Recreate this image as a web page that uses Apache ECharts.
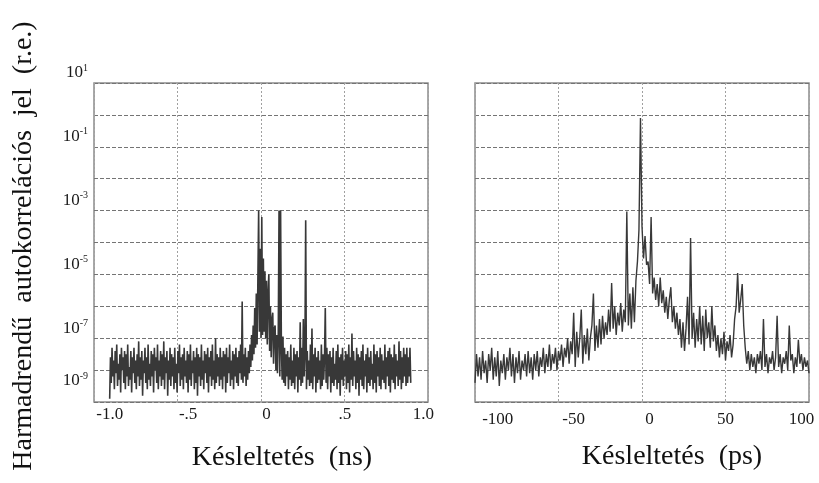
<!DOCTYPE html>
<html>
<head>
<meta charset="utf-8">
<script src="https://cdn.jsdelivr.net/npm/echarts@6/dist/echarts.min.js"></script>
<style>html,body{margin:0;padding:0;background:#fff}#c{width:819px;height:483px}</style>
</head>
<body>
<div id="c"></div>
<script>
// ---- Data (signal given as log10 of the autocorrelation) ----
const leftXStart = -1.0;   // ns
const leftXStep = 0.005;   // ns
const leftLog10 = [
-8.9,-7.6,-8.4,-7.3,-8.2,-7.7,-8.6,-7.4,-8.1,-7.2,-8.5,-7.8,-8.3,-7.5,-8.7,-7.3,-8.0,-7.6,-8.4,-7.4,
-8.6,-7.5,-8.2,-7.2,-8.5,-7.9,-8.3,-7.4,-8.7,-7.6,-8.1,-7.3,-8.4,-7.7,-8.6,-7.5,-8.2,-7.1,-8.5,-7.6,
-8.3,-7.4,-8.8,-7.7,-8.1,-7.3,-8.4,-7.6,-8.6,-7.2,-8.3,-7.8,-8.5,-7.4,-8.2,-7.5,-8.7,-7.3,-8.0,-7.6,
-8.4,-7.2,-8.6,-7.7,-8.2,-7.4,-8.5,-7.5,-8.3,-7.1,-8.6,-7.6,-8.1,-7.4,-8.8,-7.7,-8.3,-7.3,-8.5,-7.5,
-8.2,-7.6,-8.6,-7.3,-8.4,-7.8,-8.7,-7.4,-8.1,-7.2,-8.5,-7.6,-8.3,-7.5,-8.6,-7.3,-8.2,-7.7,-8.4,-7.4,
-8.7,-7.5,-8.3,-7.2,-8.5,-7.7,-8.1,-7.4,-8.6,-7.6,-8.4,-7.3,-8.8,-7.5,-8.2,-7.6,-8.5,-7.2,-8.3,-7.7,
-8.6,-7.4,-8.1,-7.5,-8.4,-7.3,-8.7,-7.6,-8.2,-7.4,-8.5,-7.2,-8.3,-7.7,-8.6,-7.0,-8.4,-7.5,-8.2,-7.6,
-8.5,-7.3,-8.3,-7.6,-8.6,-7.4,-8.2,-7.5,-8.7,-7.3,-8.4,-7.6,-8.1,-7.2,-8.5,-7.7,-8.3,-7.4,-8.6,-7.5,
-8.2,-7.3,-8.4,-7.6,-8.5,-7.4,-8.1,-7.2,-8.3,-5.85,-8.4,-7.5,-8.2,-7.3,-8.5,-7.6,-8.3,-7.4,-8.1,-7.2,
-7.9,-6.9,-7.7,-6.6,-7.5,-6.05,-7.3,-5.6,-7.2,-5.2,
-3.0,-6.8,-4.2,-7.0,-3.2,-6.9,-4.5,-6.8,-4.9,-7.0,
-5.2,-7.2,-5.6,-5.0,-7.4,-6.0,-7.6,-6.4,-6.2,-7.8,-6.7,-6.6,-8.0,-6.9,-8.1,-7.0,-3.0,-8.2,-3.0,-7.3,
-8.3,-6.95,-8.4,-7.3,-8.5,-7.5,-8.2,-7.4,-8.6,-7.6,-8.3,-7.2,-8.5,-7.7,-8.4,-7.3,-8.6,-7.5,-8.2,-7.4,
-8.7,-7.6,-8.3,-6.5,-8.5,-7.3,-8.4,-6.4,-8.2,-7.5,-3.3,-8.6,-7.4,-8.3,-7.7,-8.5,-7.2,-8.4,-6.7,-8.6,
-7.5,-8.2,-7.3,-8.7,-7.6,-8.4,-7.4,-8.3,-7.7,-8.6,-7.2,-8.5,-7.5,-8.3,-7.6,-6.05,-8.4,-7.3,-8.6,-7.5,
-8.2,-7.4,-8.7,-7.6,-8.4,-7.3,-8.5,-7.8,-8.3,-7.4,-8.6,-7.2,-8.4,-7.6,-8.8,-7.5,-8.3,-7.3,-8.5,-7.7,
-8.2,-7.4,-8.6,-7.5,-8.4,-7.2,-8.7,-7.6,-8.3,-6.85,-8.5,-7.4,-8.2,-7.7,-8.6,-7.3,-8.4,-7.5,-8.8,-7.6,
-8.3,-7.4,-8.5,-7.2,-8.6,-7.7,-8.2,-7.5,-8.7,-7.3,-8.4,-7.6,-8.5,-7.4,-8.3,-7.8,-8.6,-7.2,-8.4,-7.5,
-8.7,-7.4,-8.2,-7.6,-8.5,-7.3,-8.6,-7.5,-8.3,-7.7,-8.4,-7.2,-8.6,-7.6,-8.2,-7.4,-8.5,-7.3,-8.7,-7.5,
-8.3,-7.6,-8.4,-7.2,-8.6,-7.5,-8.2,-7.7,-8.5,-7.1,-8.3,-7.4,-8.6,-7.6,-8.4,-7.3,-8.2,-7.5,-8.5,-7.3,
-8.4,-7.6,-8.2,-7.3,-8.4
];

const rightXStart = -115;  // ps
const rightXStep = 1;      // ps
const rightLog10 = [
-8.4,-7.5,-8.2,-7.6,-8.3,-7.4,-8.1,-7.7,-8.4,-7.5,-8.0,-7.3,-8.3,-7.6,-8.2,-7.4,-8.5,-7.7,-8.1,-7.5,
-8.3,-7.6,-8.0,-7.3,-8.2,-7.5,-8.4,-7.6,-8.1,-7.4,-8.3,-7.7,-8.0,-7.5,-8.2,-7.4,-8.1,-7.6,-8.3,-7.5,
-8.0,-7.4,-8.2,-7.6,-7.9,-7.3,-8.1,-7.5,-7.9,-7.2,-8.0,-7.5,-7.8,-7.3,-8.0,-7.4,-7.7,-7.2,-7.9,-7.3,
-7.6,-7.0,-7.8,-7.1,-7.5,-6.2,-7.9,-6.8,-7.6,-7.0,-6.1,-7.8,-6.9,-7.5,-6.7,-7.7,-7.0,-6.6,-5.6,-7.4,
-6.6,-7.3,-6.4,-7.2,-6.3,-7.0,-6.5,-6.9,-6.1,-6.8,-5.27,-6.7,-6.0,-6.9,-6.2,-6.6,-5.9,-6.8,-6.1,-6.5,
-3.03,-6.6,-5.6,-6.7,-5.4,-6.5,-5.2,-4.6,-3.6,-0.1,-3.5,-4.5,-3.8,-4.7,-4.6,-5.3,-3.2,-5.6,-5.1,-5.8,
-5.3,-6.0,-5.1,-5.9,-5.5,-6.2,-5.7,-6.4,-5.8,-5.4,-6.5,-6.0,-6.7,-6.2,-6.9,-6.4,-7.3,-6.5,-7.4,-6.7,
-5.7,-7.2,-3.86,-7.0,-6.2,-7.3,-6.4,-7.1,-6.0,-7.2,-6.3,-7.4,-6.1,-7.0,-6.5,-7.3,-6.0,-7.1,-6.6,-7.4,
-6.9,-7.6,-7.0,-7.5,-6.8,-7.7,-7.1,-7.4,-6.9,-7.6,-7.2,-6.4,-6.0,-4.96,-6.2,-5.8,-5.3,-6.6,-7.3,-7.8,
-7.4,-8.0,-7.5,-7.9,-7.6,-8.1,-7.5,-7.8,-7.4,-8.0,-6.4,-7.9,-7.5,-8.1,-7.6,-7.8,-7.4,-8.0,-7.6,-6.3,
-7.9,-7.5,-8.1,-7.6,-7.8,-7.4,-8.0,-6.6,-7.7,-7.5,-8.1,-7.6,-7.9,-7.05,-7.8,-7.5,-8.0,-7.6,-7.9,-7.7,-8.1
];

// ---- Axis ticks / texts ----
const leftXTickLabels = {'-1': '-1.0', '-0.5': '-.5', '0': '0', '0.5': '.5', '1': '1.0'};
const rightXTickValues = [-100, -50, 0, 50, 100];
const yLabelExps = [1, -1, -3, -5, -7, -9];
const leftXTitle = 'Késleltetés  (ns)';
const rightXTitle = 'Késleltetés  (ps)';
const yTitle = 'Harmadrendű  autokorrelációs  jel  (r.e.)';

// ---- Build series data ----
const leftData = leftLog10.map((e, i) => [+(leftXStart + i * leftXStep).toFixed(4), e]);
const rightData = rightLog10.map((e, i) => [+(rightXStart + i * rightXStep).toFixed(4), e]);

const FONT = 'Liberation Serif';
const TXT = '#1a1a1a';
const hGrid = {show: true, lineStyle: {color: '#747474', width: 1, type: [4, 2]}};
const vGrid = {show: true, lineStyle: {color: '#a0a0a0', width: 1, type: [2, 2]}};

const chart = echarts.init(document.getElementById('c'), null, {renderer: 'canvas'});

function yFmt(v) {
  const e = Math.round(v);
  if (Math.abs(v - e) > 1e-6 || yLabelExps.indexOf(e) < 0) return '';
  if (e === -9) return '{b|10}{s|' + e + '}\n{g| }';
  return '{b|10}{s|' + e + '}';
}
const yRich = {
  b: {fontFamily: FONT, fontSize: 17, color: TXT, lineHeight: 20},
  s: {fontFamily: FONT, fontSize: 10, color: TXT, lineHeight: 10, verticalAlign: 'top'},
  g: {fontSize: 2, lineHeight: 11}
};

const gridBox = {show: true, borderColor: '#8c8c8c', borderWidth: 1.5, containLabel: false};

const option = {
  animation: false,
  backgroundColor: '#ffffff',
  grid: [
    Object.assign({left: 94, top: 83, width: 334, height: 319}, gridBox),
    Object.assign({left: 475, top: 83, width: 334, height: 319}, gridBox)
  ],
  xAxis: [
    { // left data axis
      type: 'value', gridIndex: 0, min: -1.1, max: 1.03, interval: 0.1,
      axisLine: {show: false}, axisTick: {show: false}, splitLine: {show: false},
      axisLabel: {
        margin: 4, fontFamily: FONT, fontSize: 17, color: TXT, showMinLabel: true, showMaxLabel: true,
        formatter: function (v) {
          const k = Math.round(v * 10) / 10;
          if (Math.abs(v - k) > 1e-6) return '';
          const key = String(k === 0 ? 0 : k);
          return leftXTickLabels[key] !== undefined ? leftXTickLabels[key] : '';
        }
      }
    },
    { // left grid-line axis
      type: 'value', gridIndex: 0, min: 0, max: 4, interval: 1, position: 'top',
      axisLine: {show: false}, axisTick: {show: false}, axisLabel: {show: false},
      splitLine: vGrid
    },
    { // right data axis
      type: 'value', gridIndex: 1, min: -115, max: 105, interval: 5,
      axisLine: {show: false}, axisTick: {show: false}, splitLine: {show: false},
      axisLabel: {
        margin: 9, fontFamily: FONT, fontSize: 17, color: TXT,
        formatter: function (v) { return rightXTickValues.indexOf(Math.round(v)) >= 0 && Math.abs(v - Math.round(v)) < 1e-6 ? String(Math.round(v)) : ''; }
      }
    },
    { // right grid-line axis
      type: 'value', gridIndex: 1, min: 0, max: 4, interval: 1, position: 'top',
      axisLine: {show: false}, axisTick: {show: false}, axisLabel: {show: false},
      splitLine: vGrid
    }
  ],
  yAxis: [
    {
      type: 'value', gridIndex: 0, min: -9, max: 1, interval: 1,
      axisLine: {show: false}, axisTick: {show: false}, splitLine: hGrid,
      axisLabel: {margin: 6, verticalAlign: 'bottom', formatter: yFmt, rich: yRich, fontFamily: FONT, fontSize: 17, color: TXT}
    },
    {
      type: 'value', gridIndex: 1, min: -9, max: 1, interval: 1,
      axisLine: {show: false}, axisTick: {show: false}, splitLine: hGrid,
      axisLabel: {show: false}
    }
  ],
  series: [
    {
      type: 'line', xAxisIndex: 0, yAxisIndex: 0, data: leftData,
      showSymbol: false, symbol: 'none', sampling: null, clip: true,
      lineStyle: {color: '#383838', width: 1.6}
    },
    {
      type: 'line', xAxisIndex: 2, yAxisIndex: 1, data: rightData,
      showSymbol: false, symbol: 'none', sampling: null, clip: true,
      lineStyle: {color: '#383838', width: 1.4}
    }
  ],
  graphic: [
    {type: 'text', x: 282, y: 458, style: {text: leftXTitle, fontFamily: FONT, fontSize: 28, fill: '#111', align: 'center', verticalAlign: 'middle'}},
    {type: 'text', x: 672, y: 457, style: {text: rightXTitle, fontFamily: FONT, fontSize: 28, fill: '#111', align: 'center', verticalAlign: 'middle'}},
    {type: 'text', x: 24, y: 246, rotation: Math.PI / 2, style: {text: yTitle, fontFamily: FONT, fontSize: 28, fill: '#111', align: 'center', verticalAlign: 'middle'}}
  ]
};
chart.setOption(option);
</script>
</body>
</html>
